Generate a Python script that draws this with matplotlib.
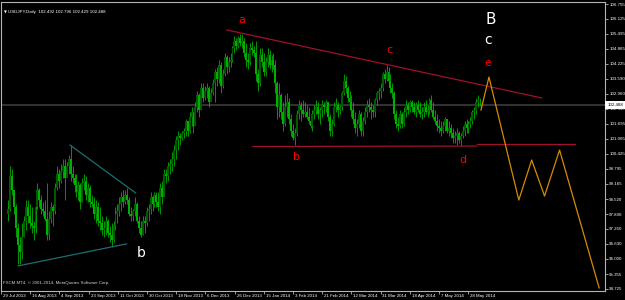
import numpy as np
import matplotlib
matplotlib.use("Agg")
import matplotlib.pyplot as plt

# ── Daily bars (USDJPY) ───────────────────────────────────────────────────────
highs = [98.5, 99.9, 99.8, 98.9, 98.3, 97.5, 96.9, 97.5, 97.8, 98.5,
         98.5, 98.3, 98.2, 97.6, 98.4, 99.2, 99.0, 98.7, 98.4, 98.5,
         99.2, 98.0, 98.4, 98.3, 99.2, 99.9, 99.8, 100.0, 100.2, 100.2,
         100.1, 100.4, 100.8, 99.9, 99.6, 99.6, 99.3, 99.2, 99.4, 99.6,
         99.5, 99.2, 99.1, 98.7, 98.6, 98.5, 98.4, 98.2, 97.8, 97.6,
         97.8, 97.7, 97.4, 97.5, 97.6, 98.2, 98.3, 98.6, 98.8, 98.9,
         98.9, 99.0, 98.6, 98.2, 98.1, 98.6, 98.4, 97.8, 97.6, 97.8,
         97.8, 98.2, 98.3, 98.8, 98.7, 98.8, 98.8, 98.8, 99.2, 99.3,
         99.8, 99.8, 100.1, 100.2, 100.5, 100.8, 101.2, 101.4, 101.3, 101.4,
         101.5, 101.9, 101.8, 102.2, 102.4, 102.2, 102.6, 103.1, 103.0, 103.4,
         103.4, 103.3, 103.4, 103.3, 103.2, 103.6, 104.0, 104.1, 104.4, 104.3,
         104.0, 104.7, 104.6, 104.5, 104.7, 105.0, 105.4, 105.3, 105.4, 105.5,
         105.5, 105.3, 105.1, 104.7, 105.1, 105.2, 105.0, 105.2, 104.0, 104.9,
         104.9, 104.7, 104.5, 104.9, 104.8, 104.6, 104.7, 104.4, 103.5, 103.4,
         103.0, 102.6, 102.9, 103.0, 102.8, 102.1, 101.7, 101.5, 102.3, 102.7,
         102.6, 102.7, 102.6, 102.5, 102.4, 102.1, 102.3, 102.5, 102.7, 102.6,
         102.4, 102.7, 102.6, 102.7, 102.5, 102.1, 101.9, 102.6, 102.8, 102.6,
         102.5, 103.1, 103.8, 103.7, 103.3, 103.1, 102.9, 102.6, 102.2, 101.9,
         102.3, 102.2, 102.0, 102.4, 102.7, 102.8, 102.6, 102.5, 102.8, 103.1,
         103.2, 103.4, 103.9, 104.0, 104.2, 104.1, 103.8, 103.4, 103.1, 102.3,
         102.0, 102.3, 102.2, 102.4, 102.7, 102.6, 102.7, 102.7, 102.6, 102.6,
         102.7, 102.6, 102.4, 102.6, 102.7, 102.5, 102.8, 102.9, 102.6, 102.3,
         102.1, 101.9, 101.8, 101.8, 102.0, 101.9, 101.8, 101.7, 101.5, 101.4,
         101.5, 101.4, 101.3, 101.6, 101.8, 101.9, 101.8, 102.0, 102.3, 102.4,
         102.8, 102.9, 102.796]
lows = [97.6, 98.0, 98.7, 97.9, 96.9, 95.8, 95.8, 96.0, 96.9, 97.2,
        97.5, 97.3, 97.1, 96.8, 97.1, 98.1, 98.2, 97.9, 97.8, 97.6,
        96.8, 96.8, 97.5, 97.4, 97.9, 98.9, 99.0, 99.2, 99.4, 98.5,
        99.5, 99.6, 99.3, 99.2, 98.8, 98.6, 98.5, 98.1, 98.4, 98.9,
        98.5, 98.4, 98.2, 98.2, 97.7, 97.5, 97.4, 97.2, 97.0, 96.9,
        97.0, 96.9, 96.7, 96.5, 96.7, 97.2, 97.5, 97.8, 98.0, 98.2,
        98.3, 98.3, 97.8, 97.6, 97.6, 97.8, 97.5, 97.1, 96.9, 97.0,
        97.1, 97.4, 97.6, 97.9, 98.0, 98.2, 98.2, 98.0, 97.9, 98.3,
        98.8, 99.2, 99.3, 99.6, 99.7, 99.9, 100.2, 100.6, 100.8, 101.0,
        101.1, 101.2, 101.2, 101.3, 101.6, 101.3, 101.9, 102.2, 102.0, 102.3,
        102.6, 102.7, 102.8, 102.4, 102.6, 102.9, 102.6, 103.3, 103.4, 103.0,
        103.2, 103.7, 103.8, 103.9, 104.1, 104.3, 104.7, 104.8, 104.9, 105.0,
        104.9, 104.5, 104.1, 104.0, 104.2, 104.6, 104.5, 103.5, 103.1, 103.3,
        104.1, 103.7, 103.7, 104.1, 104.0, 103.9, 104.0, 103.0, 101.9, 102.0,
        101.9, 101.4, 101.6, 102.0, 101.7, 101.2, 101.0, 100.8, 101.2, 101.9,
        101.8, 102.0, 102.0, 101.9, 101.7, 101.5, 101.4, 101.9, 102.1, 101.9,
        101.7, 102.0, 102.1, 102.2, 101.8, 101.2, 101.2, 101.6, 102.2, 102.0,
        102.1, 102.3, 102.9, 103.0, 102.6, 102.3, 102.0, 101.7, 101.3, 101.2,
        101.5, 101.2, 101.2, 101.7, 102.0, 102.2, 101.9, 102.0, 102.0, 102.5,
        102.7, 102.8, 103.1, 103.4, 103.5, 103.3, 103.0, 102.8, 101.9, 101.5,
        101.4, 101.5, 101.5, 101.6, 102.0, 102.1, 102.2, 102.2, 102.1, 102.0,
        102.2, 102.0, 101.9, 102.0, 102.1, 102.0, 102.1, 102.2, 101.9, 101.7,
        101.4, 101.3, 101.2, 101.3, 101.4, 101.3, 101.2, 101.1, 100.9, 100.9,
        100.8, 100.9, 100.75, 101.1, 101.2, 101.3, 101.3, 101.5, 101.7, 101.9,
        102.1, 102.4, 102.429]
closes = [98.1, 99.5, 98.9, 98.2, 97.3, 96.6, 96.3, 96.9, 97.6, 98.2,
          97.8, 97.5, 97.4, 97.3, 98.2, 98.9, 98.5, 98.1, 98.0, 97.7,
          97.0, 97.7, 98.2, 98.0, 99.0, 99.6, 99.3, 99.7, 99.9, 99.4,
          99.9, 100.2, 99.6, 99.4, 99.1, 98.8, 99.1, 98.4, 99.2, 99.3,
          98.7, 99.0, 98.4, 98.3, 97.9, 98.2, 97.6, 97.5, 97.2, 97.3,
          97.6, 97.1, 97.0, 96.8, 97.4, 97.9, 98.0, 98.3, 98.6, 98.4,
          98.7, 98.5, 97.9, 97.8, 98.0, 98.3, 97.6, 97.3, 97.0, 97.6,
          97.5, 98.0, 98.1, 98.6, 98.3, 98.7, 98.4, 98.2, 99.0, 98.6,
          99.6, 99.5, 99.9, 100.0, 100.2, 100.6, 101.0, 101.2, 101.1, 101.3,
          101.4, 101.8, 101.4, 102.0, 102.2, 101.6, 102.4, 102.9, 102.3, 103.2,
          102.8, 103.1, 103.2, 102.6, 103.0, 103.4, 103.9, 103.6, 104.2, 103.3,
          103.8, 104.5, 104.1, 104.3, 104.4, 104.9, 105.2, 105.0, 105.3, 105.1,
          105.2, 104.7, 104.4, 104.3, 104.9, 104.8, 104.7, 103.8, 103.4, 104.6,
          104.3, 103.9, 104.3, 104.6, 104.2, 104.4, 104.2, 103.4, 102.4, 102.9,
          102.2, 101.7, 102.4, 102.6, 101.9, 101.4, 101.1, 101.3, 102.1, 102.5,
          102.3, 102.1, 102.2, 102.0, 101.8, 101.6, 102.1, 102.3, 102.4, 102.1,
          102.3, 102.5, 102.4, 102.6, 102.0, 101.4, 101.7, 102.4, 102.5, 102.3,
          102.4, 103.0, 103.5, 103.2, 102.8, 102.6, 102.3, 101.9, 101.5, 101.7,
          102.1, 101.4, 101.8, 102.2, 102.5, 102.4, 102.3, 102.2, 102.7, 103.0,
          103.1, 103.2, 103.8, 103.6, 103.9, 103.5, 103.2, 103.0, 102.1, 101.7,
          101.6, 102.1, 101.7, 102.2, 102.5, 102.3, 102.6, 102.4, 102.2, 102.5,
          102.3, 102.1, 102.2, 102.4, 102.2, 102.3, 102.7, 102.3, 102.0, 101.8,
          101.6, 101.5, 101.4, 101.6, 101.9, 101.4, 101.5, 101.3, 101.1, 101.2,
          101.3, 101.0, 101.2, 101.4, 101.7, 101.5, 101.7, 101.8, 102.2, 102.3,
          102.6, 102.7, 102.488]
opens = [97.9, 98.1, 99.5, 98.9, 98.2, 97.3, 96.6, 96.3, 96.9, 97.6,
         98.2, 97.8, 97.5, 97.4, 97.3, 98.2, 98.9, 98.5, 98.1, 98.0,
         97.7, 97.0, 97.7, 98.2, 98.0, 99.0, 99.6, 99.3, 99.7, 99.9,
         99.4, 99.9, 100.2, 99.6, 99.4, 99.1, 98.8, 99.1, 98.4, 99.2,
         99.3, 98.7, 99.0, 98.4, 98.3, 97.9, 98.2, 97.6, 97.5, 97.2,
         97.3, 97.6, 97.1, 97.0, 96.8, 97.4, 97.9, 98.0, 98.3, 98.6,
         98.4, 98.7, 98.5, 97.9, 97.8, 98.0, 98.3, 97.6, 97.3, 97.0,
         97.6, 97.5, 98.0, 98.1, 98.6, 98.3, 98.7, 98.4, 98.2, 99.0,
         98.6, 99.6, 99.5, 99.9, 100.0, 100.2, 100.6, 101.0, 101.2, 101.1,
         101.3, 101.4, 101.8, 101.4, 102.0, 102.2, 101.6, 102.4, 102.9, 102.3,
         103.2, 102.8, 103.1, 103.2, 102.6, 103.0, 103.4, 103.9, 103.6, 104.2,
         103.3, 103.8, 104.5, 104.1, 104.3, 104.4, 104.9, 105.2, 105.0, 105.3,
         105.1, 105.2, 104.7, 104.4, 104.3, 104.9, 104.8, 104.7, 103.8, 103.4,
         104.6, 104.3, 103.9, 104.3, 104.6, 104.2, 104.4, 104.2, 103.4, 102.4,
         102.9, 102.2, 101.7, 102.4, 102.6, 101.9, 101.4, 101.1, 101.3, 102.1,
         102.5, 102.3, 102.1, 102.2, 102.0, 101.8, 101.6, 102.1, 102.3, 102.4,
         102.1, 102.3, 102.5, 102.4, 102.6, 102.0, 101.4, 101.7, 102.4, 102.5,
         102.3, 102.4, 103.0, 103.5, 103.2, 102.8, 102.6, 102.3, 101.9, 101.5,
         101.7, 102.1, 101.4, 101.8, 102.2, 102.5, 102.4, 102.3, 102.2, 102.7,
         103.0, 103.1, 103.2, 103.8, 103.6, 103.9, 103.5, 103.2, 103.0, 102.1,
         101.7, 101.6, 102.1, 101.7, 102.2, 102.5, 102.3, 102.6, 102.4, 102.2,
         102.5, 102.3, 102.1, 102.2, 102.4, 102.2, 102.3, 102.7, 102.3, 102.0,
         101.8, 101.6, 101.5, 101.4, 101.6, 101.9, 101.4, 101.5, 101.3, 101.1,
         101.2, 101.3, 101.0, 101.2, 101.4, 101.7, 101.5, 101.7, 101.8, 102.2,
         102.3, 102.6, 102.492]

date_labels = ["29 Jul 2013", "16 Aug 2013", "4 Sep 2013", "23 Sep 2013",
               "11 Oct 2013", "30 Oct 2013", "18 Nov 2013", "6 Dec 2013",
               "26 Dec 2013", "15 Jan 2014", "3 Feb 2014", "21 Feb 2014",
               "12 Mar 2014", "31 Mar 2014", "18 Apr 2014", "7 May 2014",
               "28 May 2014"]
price_ticks = [106.755, 106.125, 105.495, 104.865, 104.225, 103.590, 102.960,
               102.330, 101.695, 101.065, 100.425, 99.795, 99.165, 98.520,
               97.890, 97.260, 96.630, 96.000, 95.355, 94.725]
last_price = 102.488

# drawn objects: (bar, price) anchors
tri_upper = ([31.7, 65.3], [100.80, 98.78])
tri_lower = ([5.1, 60.7], [95.70, 96.63])
red_upper = ([112.1, 273.5], [105.66, 102.79])
red_lower = ([125.5, 240.3, 240.3, 290.6], [100.74, 100.76, 100.83, 100.83])
wave_bar = [242.4, 246.5, 261.8, 268.4, 275.0, 282.7, 303.0]
wave_price = [102.28, 103.67, 98.48, 100.17, 98.65, 100.59, 94.77]

FONT = ["Liberation Sans", "DejaVu Sans"]
SMALL = 3.2

# ── Figure ────────────────────────────────────────────────────────────────────
fig = plt.figure(figsize=(6.25, 3.0), dpi=100, facecolor="black")
ax = fig.add_axes([1 / 625, 9 / 300, 604 / 625, 289 / 300], facecolor="black")
ax.set_xlim(-3.04, 306.0)
ax.set_ylim(94.64, 106.84)

x = np.arange(len(closes))
o = np.array(opens); c = np.array(closes)
ax.vlines(x, lows, highs, colors="#00c000", lw=0.55, zorder=3)
up = c >= o
ax.bar(x[up], np.maximum(c - o, 0.02)[up], bottom=o[up], width=1.0,
       color="#005a00", edgecolor="none", zorder=4)
ax.bar(x[~up], np.maximum(o - c, 0.02)[~up], bottom=c[~up], width=1.0,
       color="#00b000", edgecolor="none", zorder=4)

ax.axhline(last_price, color="#3a3a3a", lw=1.2, zorder=2)

ax.plot(*tri_upper, color="#1c6e6e", lw=0.9, zorder=5)
ax.plot(*tri_lower, color="#1c6e6e", lw=0.9, zorder=5)
ax.plot(*red_upper, color="#a0102c", lw=0.9, zorder=5)
ax.plot(red_lower[0][:2], red_lower[1][:2], color="#a0102c", lw=0.9, zorder=5)
ax.plot(red_lower[0][2:], red_lower[1][2:], color="#a0102c", lw=0.9, zorder=5)
ax.plot(wave_bar, wave_price, color="#d88a00", lw=0.9, zorder=6, clip_on=False)

red_marks = [("a", 120.0, 106.08), ("b", 148.0, 100.30), ("c", 195.4, 104.81),
             ("d", 233.2, 100.17), ("e", 246.0, 104.27)]
for s, bx, py in red_marks:
    ax.text(bx, py, s, color="red", fontsize=8, ha="center", va="center")
ax.text(247.5, 106.1, "B", color="white", fontsize=11, ha="center", va="center")
ax.text(246.0, 105.24, "c", color="white", fontsize=10, ha="center", va="center")
ax.text(68.4, 96.24, "b", color="white", fontsize=10, ha="center", va="center")

# axes frame
for side in ["top", "left", "right", "bottom"]:
    ax.spines[side].set_color("#b4b4b4")
    ax.spines[side].set_linewidth(0.8)

ax.yaxis.tick_right()
ax.set_yticks(price_ticks)
ax.set_yticklabels([f"{v:.3f}" for v in price_ticks], family=FONT)
ax.tick_params(axis="y", colors="#b4b4b4", labelcolor="white", labelsize=SMALL,
               length=2, width=0.6, pad=1)
ax.text(1.004, (last_price - 94.64) / (106.84 - 94.64), f"{last_price:.3f}",
        transform=ax.transAxes, fontsize=SMALL, family=FONT, color="black",
        ha="left", va="center",
        bbox=dict(boxstyle="square,pad=0.45", fc="white", ec="none"), zorder=10,
        clip_on=False)

tick_pos = -3.7 + 14.97 * np.arange(len(date_labels))
ax.set_xticks(tick_pos)
ax.set_xticklabels([])
ax.tick_params(axis="x", colors="#b4b4b4", length=2.5, width=0.6)
for tp, lab in zip(tick_pos, date_labels):
    ax.text(tp + 1.0, -0.01, lab, transform=ax.get_xaxis_transform(),
            fontsize=SMALL, family=FONT, color="white", ha="left", va="top",
            clip_on=False)

fig.text(4 / 625, 1 - 12 / 300, "\u25BC", color="white", fontsize=2.6, va="center")
fig.text(8 / 625, 1 - 12 / 300, "USDJPY,Daily  102.492 102.796 102.429 102.488",
         color="white", fontsize=SMALL, family=FONT, va="center")
fig.text(3 / 625, 1 - 283 / 300, "FXCM MT4, \u00a9 2001-2014, MetaQuotes Software Corp.",
         color="#d0d0d0", fontsize=SMALL, family=FONT, va="center")

fig.savefig("out.png", dpi=100, facecolor="black")
